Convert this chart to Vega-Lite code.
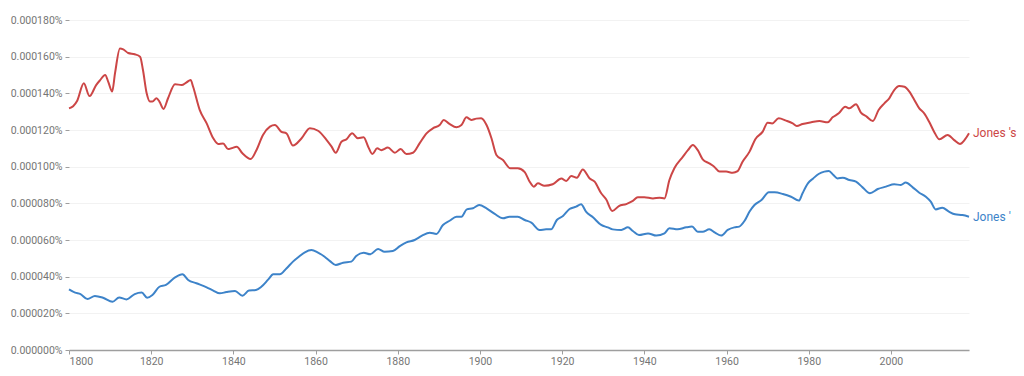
{
  "$schema": "https://vega.github.io/schema/vega-lite/v6.json",
  "width": 900,
  "height": 330,
  "autosize": "none",
  "padding": {"left": 69, "top": 20, "right": 55, "bottom": 26},
  "background": "white",
  "config": {"view": {"stroke": null}, "font": "Roboto"},
  "datasets": {
    "ngrams": [
      {"ngram": "Jones 's", "year": 1800.0, "value": 0.0001318},
      {"ngram": "Jones 's", "year": 1801.0, "value": 0.000133},
      {"ngram": "Jones 's", "year": 1802.0, "value": 0.000136},
      {"ngram": "Jones 's", "year": 1803.6, "value": 0.0001455},
      {"ngram": "Jones 's", "year": 1805.0, "value": 0.0001385},
      {"ngram": "Jones 's", "year": 1806.6, "value": 0.0001445},
      {"ngram": "Jones 's", "year": 1807.5, "value": 0.000147},
      {"ngram": "Jones 's", "year": 1808.8, "value": 0.00015},
      {"ngram": "Jones 's", "year": 1809.6, "value": 0.000146},
      {"ngram": "Jones 's", "year": 1810.5, "value": 0.000141},
      {"ngram": "Jones 's", "year": 1811.2, "value": 0.000151},
      {"ngram": "Jones 's", "year": 1812.4, "value": 0.0001645},
      {"ngram": "Jones 's", "year": 1813.2, "value": 0.000164},
      {"ngram": "Jones 's", "year": 1814.4, "value": 0.000162},
      {"ngram": "Jones 's", "year": 1816.0, "value": 0.0001613},
      {"ngram": "Jones 's", "year": 1817.3, "value": 0.00016},
      {"ngram": "Jones 's", "year": 1818.0, "value": 0.0001527},
      {"ngram": "Jones 's", "year": 1818.9, "value": 0.00014},
      {"ngram": "Jones 's", "year": 1819.7, "value": 0.0001355},
      {"ngram": "Jones 's", "year": 1820.3, "value": 0.0001355},
      {"ngram": "Jones 's", "year": 1821.3, "value": 0.0001373},
      {"ngram": "Jones 's", "year": 1822.0, "value": 0.0001355},
      {"ngram": "Jones 's", "year": 1823.0, "value": 0.0001315},
      {"ngram": "Jones 's", "year": 1824.1, "value": 0.0001373},
      {"ngram": "Jones 's", "year": 1825.8, "value": 0.000145},
      {"ngram": "Jones 's", "year": 1827.4, "value": 0.0001445},
      {"ngram": "Jones 's", "year": 1828.6, "value": 0.000146},
      {"ngram": "Jones 's", "year": 1829.6, "value": 0.0001473},
      {"ngram": "Jones 's", "year": 1830.2, "value": 0.0001436},
      {"ngram": "Jones 's", "year": 1831.8, "value": 0.000131},
      {"ngram": "Jones 's", "year": 1833.5, "value": 0.0001236},
      {"ngram": "Jones 's", "year": 1835.1, "value": 0.0001155},
      {"ngram": "Jones 's", "year": 1836.3, "value": 0.0001124},
      {"ngram": "Jones 's", "year": 1837.5, "value": 0.0001127},
      {"ngram": "Jones 's", "year": 1838.7, "value": 0.0001096},
      {"ngram": "Jones 's", "year": 1839.5, "value": 0.00011},
      {"ngram": "Jones 's", "year": 1840.8, "value": 0.0001109},
      {"ngram": "Jones 's", "year": 1842.2, "value": 0.0001073},
      {"ngram": "Jones 's", "year": 1844.2, "value": 0.0001042},
      {"ngram": "Jones 's", "year": 1845.6, "value": 0.000109},
      {"ngram": "Jones 's", "year": 1847.2, "value": 0.0001173},
      {"ngram": "Jones 's", "year": 1848.9, "value": 0.0001218},
      {"ngram": "Jones 's", "year": 1850.1, "value": 0.0001227},
      {"ngram": "Jones 's", "year": 1851.7, "value": 0.000119},
      {"ngram": "Jones 's", "year": 1852.9, "value": 0.0001182},
      {"ngram": "Jones 's", "year": 1854.5, "value": 0.0001115},
      {"ngram": "Jones 's", "year": 1856.6, "value": 0.0001155},
      {"ngram": "Jones 's", "year": 1858.6, "value": 0.000121},
      {"ngram": "Jones 's", "year": 1860.6, "value": 0.0001196},
      {"ngram": "Jones 's", "year": 1862.7, "value": 0.0001145},
      {"ngram": "Jones 's", "year": 1863.9, "value": 0.0001109},
      {"ngram": "Jones 's", "year": 1864.9, "value": 0.0001076},
      {"ngram": "Jones 's", "year": 1866.3, "value": 0.0001136},
      {"ngram": "Jones 's", "year": 1867.5, "value": 0.0001149},
      {"ngram": "Jones 's", "year": 1868.9, "value": 0.0001182},
      {"ngram": "Jones 's", "year": 1870.3, "value": 0.0001155},
      {"ngram": "Jones 's", "year": 1871.7, "value": 0.000116},
      {"ngram": "Jones 's", "year": 1872.8, "value": 0.0001109},
      {"ngram": "Jones 's", "year": 1873.8, "value": 0.0001069},
      {"ngram": "Jones 's", "year": 1875.0, "value": 0.00011},
      {"ngram": "Jones 's", "year": 1876.0, "value": 0.000109},
      {"ngram": "Jones 's", "year": 1877.6, "value": 0.0001104},
      {"ngram": "Jones 's", "year": 1879.3, "value": 0.0001076},
      {"ngram": "Jones 's", "year": 1880.7, "value": 0.0001096},
      {"ngram": "Jones 's", "year": 1882.1, "value": 0.0001069},
      {"ngram": "Jones 's", "year": 1883.7, "value": 0.0001076},
      {"ngram": "Jones 's", "year": 1885.3, "value": 0.0001127},
      {"ngram": "Jones 's", "year": 1887.0, "value": 0.0001182},
      {"ngram": "Jones 's", "year": 1888.6, "value": 0.000121},
      {"ngram": "Jones 's", "year": 1890.2, "value": 0.0001227},
      {"ngram": "Jones 's", "year": 1891.2, "value": 0.0001255},
      {"ngram": "Jones 's", "year": 1892.6, "value": 0.0001233},
      {"ngram": "Jones 's", "year": 1894.3, "value": 0.0001215},
      {"ngram": "Jones 's", "year": 1895.5, "value": 0.0001227},
      {"ngram": "Jones 's", "year": 1896.7, "value": 0.0001269},
      {"ngram": "Jones 's", "year": 1897.9, "value": 0.0001255},
      {"ngram": "Jones 's", "year": 1899.1, "value": 0.0001262},
      {"ngram": "Jones 's", "year": 1900.3, "value": 0.0001264},
      {"ngram": "Jones 's", "year": 1901.6, "value": 0.0001227},
      {"ngram": "Jones 's", "year": 1902.8, "value": 0.0001155},
      {"ngram": "Jones 's", "year": 1904.0, "value": 0.0001064},
      {"ngram": "Jones 's", "year": 1905.6, "value": 0.0001036},
      {"ngram": "Jones 's", "year": 1907.4, "value": 0.0000991},
      {"ngram": "Jones 's", "year": 1909.2, "value": 0.0000991},
      {"ngram": "Jones 's", "year": 1910.9, "value": 0.000097},
      {"ngram": "Jones 's", "year": 1912.1, "value": 0.0000918},
      {"ngram": "Jones 's", "year": 1913.1, "value": 0.0000891},
      {"ngram": "Jones 's", "year": 1914.1, "value": 0.0000909},
      {"ngram": "Jones 's", "year": 1915.7, "value": 0.0000896},
      {"ngram": "Jones 's", "year": 1917.7, "value": 0.0000904},
      {"ngram": "Jones 's", "year": 1919.8, "value": 0.0000936},
      {"ngram": "Jones 's", "year": 1921.0, "value": 0.0000922},
      {"ngram": "Jones 's", "year": 1922.2, "value": 0.0000949},
      {"ngram": "Jones 's", "year": 1923.6, "value": 0.000094},
      {"ngram": "Jones 's", "year": 1925.0, "value": 0.0000985},
      {"ngram": "Jones 's", "year": 1926.7, "value": 0.0000936},
      {"ngram": "Jones 's", "year": 1927.9, "value": 0.0000918},
      {"ngram": "Jones 's", "year": 1929.5, "value": 0.0000855},
      {"ngram": "Jones 's", "year": 1930.7, "value": 0.0000822},
      {"ngram": "Jones 's", "year": 1932.2, "value": 0.0000758},
      {"ngram": "Jones 's", "year": 1933.8, "value": 0.0000785},
      {"ngram": "Jones 's", "year": 1935.6, "value": 0.0000796},
      {"ngram": "Jones 's", "year": 1937.2, "value": 0.0000813},
      {"ngram": "Jones 's", "year": 1938.4, "value": 0.0000833},
      {"ngram": "Jones 's", "year": 1940.0, "value": 0.0000833},
      {"ngram": "Jones 's", "year": 1942.1, "value": 0.0000827},
      {"ngram": "Jones 's", "year": 1943.7, "value": 0.0000831},
      {"ngram": "Jones 's", "year": 1944.9, "value": 0.0000827},
      {"ngram": "Jones 's", "year": 1946.1, "value": 0.0000927},
      {"ngram": "Jones 's", "year": 1947.3, "value": 0.0000991},
      {"ngram": "Jones 's", "year": 1949.4, "value": 0.0001055},
      {"ngram": "Jones 's", "year": 1950.6, "value": 0.000109},
      {"ngram": "Jones 's", "year": 1951.8, "value": 0.0001118},
      {"ngram": "Jones 's", "year": 1953.0, "value": 0.000109},
      {"ngram": "Jones 's", "year": 1954.2, "value": 0.000104},
      {"ngram": "Jones 's", "year": 1955.8, "value": 0.0001018},
      {"ngram": "Jones 's", "year": 1957.0, "value": 0.0001},
      {"ngram": "Jones 's", "year": 1958.3, "value": 0.0000973},
      {"ngram": "Jones 's", "year": 1959.9, "value": 0.0000973},
      {"ngram": "Jones 's", "year": 1961.5, "value": 0.0000967},
      {"ngram": "Jones 's", "year": 1962.7, "value": 0.0000976},
      {"ngram": "Jones 's", "year": 1963.9, "value": 0.0001027},
      {"ngram": "Jones 's", "year": 1965.6, "value": 0.0001082},
      {"ngram": "Jones 's", "year": 1967.0, "value": 0.000115},
      {"ngram": "Jones 's", "year": 1968.8, "value": 0.0001191},
      {"ngram": "Jones 's", "year": 1970.0, "value": 0.000124},
      {"ngram": "Jones 's", "year": 1971.1, "value": 0.0001236},
      {"ngram": "Jones 's", "year": 1972.7, "value": 0.0001264},
      {"ngram": "Jones 's", "year": 1974.5, "value": 0.0001251},
      {"ngram": "Jones 's", "year": 1976.1, "value": 0.0001236},
      {"ngram": "Jones 's", "year": 1977.1, "value": 0.0001222},
      {"ngram": "Jones 's", "year": 1978.5, "value": 0.0001233},
      {"ngram": "Jones 's", "year": 1980.6, "value": 0.0001242},
      {"ngram": "Jones 's", "year": 1982.6, "value": 0.0001249},
      {"ngram": "Jones 's", "year": 1984.6, "value": 0.0001242},
      {"ngram": "Jones 's", "year": 1985.8, "value": 0.0001269},
      {"ngram": "Jones 's", "year": 1987.3, "value": 0.0001291},
      {"ngram": "Jones 's", "year": 1988.9, "value": 0.0001327},
      {"ngram": "Jones 's", "year": 1989.9, "value": 0.0001318},
      {"ngram": "Jones 's", "year": 1991.5, "value": 0.000134},
      {"ngram": "Jones 's", "year": 1992.7, "value": 0.0001295},
      {"ngram": "Jones 's", "year": 1994.1, "value": 0.0001273},
      {"ngram": "Jones 's", "year": 1995.6, "value": 0.0001249},
      {"ngram": "Jones 's", "year": 1997.0, "value": 0.0001309},
      {"ngram": "Jones 's", "year": 1998.4, "value": 0.0001345},
      {"ngram": "Jones 's", "year": 1999.6, "value": 0.0001373},
      {"ngram": "Jones 's", "year": 2000.8, "value": 0.0001418},
      {"ngram": "Jones 's", "year": 2002.0, "value": 0.000144},
      {"ngram": "Jones 's", "year": 2003.3, "value": 0.0001436},
      {"ngram": "Jones 's", "year": 2004.5, "value": 0.0001409},
      {"ngram": "Jones 's", "year": 2005.7, "value": 0.0001364},
      {"ngram": "Jones 's", "year": 2006.9, "value": 0.0001318},
      {"ngram": "Jones 's", "year": 2008.1, "value": 0.0001291},
      {"ngram": "Jones 's", "year": 2009.3, "value": 0.0001245},
      {"ngram": "Jones 's", "year": 2010.5, "value": 0.0001191},
      {"ngram": "Jones 's", "year": 2011.8, "value": 0.0001149},
      {"ngram": "Jones 's", "year": 2013.8, "value": 0.0001173},
      {"ngram": "Jones 's", "year": 2015.4, "value": 0.0001145},
      {"ngram": "Jones 's", "year": 2016.8, "value": 0.0001124},
      {"ngram": "Jones 's", "year": 2017.9, "value": 0.0001145},
      {"ngram": "Jones 's", "year": 2019.0, "value": 0.0001182},
      {"ngram": "Jones '", "year": 1800.0, "value": 0.0000331},
      {"ngram": "Jones '", "year": 1801.5, "value": 0.0000313},
      {"ngram": "Jones '", "year": 1802.8, "value": 0.0000305},
      {"ngram": "Jones '", "year": 1804.5, "value": 0.0000278},
      {"ngram": "Jones '", "year": 1806.3, "value": 0.0000295},
      {"ngram": "Jones '", "year": 1808.3, "value": 0.0000285},
      {"ngram": "Jones '", "year": 1810.6, "value": 0.0000263},
      {"ngram": "Jones '", "year": 1812.2, "value": 0.0000287},
      {"ngram": "Jones '", "year": 1814.0, "value": 0.0000276},
      {"ngram": "Jones '", "year": 1816.0, "value": 0.0000305},
      {"ngram": "Jones '", "year": 1817.7, "value": 0.0000313},
      {"ngram": "Jones '", "year": 1819.0, "value": 0.0000285},
      {"ngram": "Jones '", "year": 1820.3, "value": 0.00003},
      {"ngram": "Jones '", "year": 1822.0, "value": 0.0000345},
      {"ngram": "Jones '", "year": 1823.6, "value": 0.0000355},
      {"ngram": "Jones '", "year": 1825.8, "value": 0.0000396},
      {"ngram": "Jones '", "year": 1827.6, "value": 0.0000413},
      {"ngram": "Jones '", "year": 1829.0, "value": 0.0000382},
      {"ngram": "Jones '", "year": 1831.0, "value": 0.0000364},
      {"ngram": "Jones '", "year": 1833.5, "value": 0.0000342},
      {"ngram": "Jones '", "year": 1835.1, "value": 0.0000324},
      {"ngram": "Jones '", "year": 1836.7, "value": 0.0000309},
      {"ngram": "Jones '", "year": 1838.3, "value": 0.0000316},
      {"ngram": "Jones '", "year": 1840.4, "value": 0.0000322},
      {"ngram": "Jones '", "year": 1842.2, "value": 0.0000296},
      {"ngram": "Jones '", "year": 1843.8, "value": 0.0000324},
      {"ngram": "Jones '", "year": 1845.5, "value": 0.0000327},
      {"ngram": "Jones '", "year": 1846.8, "value": 0.0000345},
      {"ngram": "Jones '", "year": 1848.5, "value": 0.0000385},
      {"ngram": "Jones '", "year": 1849.7, "value": 0.0000413},
      {"ngram": "Jones '", "year": 1851.3, "value": 0.0000413},
      {"ngram": "Jones '", "year": 1852.9, "value": 0.0000445},
      {"ngram": "Jones '", "year": 1854.5, "value": 0.0000482},
      {"ngram": "Jones '", "year": 1856.0, "value": 0.000051},
      {"ngram": "Jones '", "year": 1857.4, "value": 0.0000533},
      {"ngram": "Jones '", "year": 1859.0, "value": 0.0000545},
      {"ngram": "Jones '", "year": 1860.6, "value": 0.0000531},
      {"ngram": "Jones '", "year": 1862.2, "value": 0.0000509},
      {"ngram": "Jones '", "year": 1863.5, "value": 0.0000485},
      {"ngram": "Jones '", "year": 1864.9, "value": 0.0000464},
      {"ngram": "Jones '", "year": 1866.7, "value": 0.0000476},
      {"ngram": "Jones '", "year": 1868.7, "value": 0.0000482},
      {"ngram": "Jones '", "year": 1869.9, "value": 0.0000513},
      {"ngram": "Jones '", "year": 1871.7, "value": 0.0000531},
      {"ngram": "Jones '", "year": 1873.3, "value": 0.0000522},
      {"ngram": "Jones '", "year": 1875.2, "value": 0.0000551},
      {"ngram": "Jones '", "year": 1876.8, "value": 0.0000536},
      {"ngram": "Jones '", "year": 1878.8, "value": 0.000054},
      {"ngram": "Jones '", "year": 1880.5, "value": 0.0000567},
      {"ngram": "Jones '", "year": 1882.1, "value": 0.0000587},
      {"ngram": "Jones '", "year": 1884.1, "value": 0.00006},
      {"ngram": "Jones '", "year": 1885.8, "value": 0.0000622},
      {"ngram": "Jones '", "year": 1887.8, "value": 0.000064},
      {"ngram": "Jones '", "year": 1889.4, "value": 0.0000633},
      {"ngram": "Jones '", "year": 1891.0, "value": 0.0000682},
      {"ngram": "Jones '", "year": 1892.6, "value": 0.0000705},
      {"ngram": "Jones '", "year": 1894.3, "value": 0.0000727},
      {"ngram": "Jones '", "year": 1895.5, "value": 0.0000727},
      {"ngram": "Jones '", "year": 1896.8, "value": 0.0000767},
      {"ngram": "Jones '", "year": 1898.3, "value": 0.0000773},
      {"ngram": "Jones '", "year": 1899.8, "value": 0.0000791},
      {"ngram": "Jones '", "year": 1901.6, "value": 0.0000773},
      {"ngram": "Jones '", "year": 1903.6, "value": 0.0000742},
      {"ngram": "Jones '", "year": 1905.6, "value": 0.0000718},
      {"ngram": "Jones '", "year": 1907.2, "value": 0.0000727},
      {"ngram": "Jones '", "year": 1909.2, "value": 0.0000727},
      {"ngram": "Jones '", "year": 1910.9, "value": 0.0000709},
      {"ngram": "Jones '", "year": 1912.5, "value": 0.0000695},
      {"ngram": "Jones '", "year": 1914.5, "value": 0.0000655},
      {"ngram": "Jones '", "year": 1916.1, "value": 0.0000658},
      {"ngram": "Jones '", "year": 1917.3, "value": 0.0000658},
      {"ngram": "Jones '", "year": 1918.7, "value": 0.0000709},
      {"ngram": "Jones '", "year": 1920.2, "value": 0.0000731},
      {"ngram": "Jones '", "year": 1921.8, "value": 0.0000769},
      {"ngram": "Jones '", "year": 1923.4, "value": 0.0000782},
      {"ngram": "Jones '", "year": 1924.6, "value": 0.0000795},
      {"ngram": "Jones '", "year": 1925.8, "value": 0.0000755},
      {"ngram": "Jones '", "year": 1927.5, "value": 0.0000724},
      {"ngram": "Jones '", "year": 1929.5, "value": 0.0000682},
      {"ngram": "Jones '", "year": 1931.1, "value": 0.0000669},
      {"ngram": "Jones '", "year": 1932.3, "value": 0.0000658},
      {"ngram": "Jones '", "year": 1934.4, "value": 0.0000655},
      {"ngram": "Jones '", "year": 1936.0, "value": 0.0000669},
      {"ngram": "Jones '", "year": 1937.2, "value": 0.0000649},
      {"ngram": "Jones '", "year": 1938.7, "value": 0.0000627},
      {"ngram": "Jones '", "year": 1940.9, "value": 0.0000636},
      {"ngram": "Jones '", "year": 1942.9, "value": 0.0000624},
      {"ngram": "Jones '", "year": 1944.9, "value": 0.0000636},
      {"ngram": "Jones '", "year": 1946.1, "value": 0.0000664},
      {"ngram": "Jones '", "year": 1948.1, "value": 0.0000658},
      {"ngram": "Jones '", "year": 1950.2, "value": 0.0000669},
      {"ngram": "Jones '", "year": 1951.6, "value": 0.0000673},
      {"ngram": "Jones '", "year": 1953.0, "value": 0.0000645},
      {"ngram": "Jones '", "year": 1954.2, "value": 0.0000645},
      {"ngram": "Jones '", "year": 1955.8, "value": 0.0000658},
      {"ngram": "Jones '", "year": 1957.2, "value": 0.000064},
      {"ngram": "Jones '", "year": 1958.7, "value": 0.0000624},
      {"ngram": "Jones '", "year": 1960.3, "value": 0.0000655},
      {"ngram": "Jones '", "year": 1961.9, "value": 0.0000669},
      {"ngram": "Jones '", "year": 1963.1, "value": 0.0000673},
      {"ngram": "Jones '", "year": 1964.4, "value": 0.0000705},
      {"ngram": "Jones '", "year": 1965.6, "value": 0.0000755},
      {"ngram": "Jones '", "year": 1966.8, "value": 0.0000791},
      {"ngram": "Jones '", "year": 1968.5, "value": 0.0000818},
      {"ngram": "Jones '", "year": 1970.3, "value": 0.000086},
      {"ngram": "Jones '", "year": 1971.7, "value": 0.000086},
      {"ngram": "Jones '", "year": 1973.7, "value": 0.0000851},
      {"ngram": "Jones '", "year": 1975.7, "value": 0.0000836},
      {"ngram": "Jones '", "year": 1977.6, "value": 0.0000815},
      {"ngram": "Jones '", "year": 1978.5, "value": 0.0000855},
      {"ngram": "Jones '", "year": 1979.8, "value": 0.0000909},
      {"ngram": "Jones '", "year": 1981.1, "value": 0.0000936},
      {"ngram": "Jones '", "year": 1982.4, "value": 0.000096},
      {"ngram": "Jones '", "year": 1983.8, "value": 0.0000973},
      {"ngram": "Jones '", "year": 1984.9, "value": 0.0000976},
      {"ngram": "Jones '", "year": 1986.0, "value": 0.0000955},
      {"ngram": "Jones '", "year": 1987.0, "value": 0.0000936},
      {"ngram": "Jones '", "year": 1988.3, "value": 0.000094},
      {"ngram": "Jones '", "year": 1989.9, "value": 0.0000927},
      {"ngram": "Jones '", "year": 1991.5, "value": 0.0000918},
      {"ngram": "Jones '", "year": 1993.1, "value": 0.0000887},
      {"ngram": "Jones '", "year": 1994.9, "value": 0.0000855},
      {"ngram": "Jones '", "year": 1996.8, "value": 0.0000878},
      {"ngram": "Jones '", "year": 1998.8, "value": 0.0000891},
      {"ngram": "Jones '", "year": 2000.8, "value": 0.0000904},
      {"ngram": "Jones '", "year": 2002.4, "value": 0.00009},
      {"ngram": "Jones '", "year": 2003.6, "value": 0.0000913},
      {"ngram": "Jones '", "year": 2005.3, "value": 0.0000887},
      {"ngram": "Jones '", "year": 2006.9, "value": 0.0000858},
      {"ngram": "Jones '", "year": 2008.5, "value": 0.0000836},
      {"ngram": "Jones '", "year": 2009.7, "value": 0.0000809},
      {"ngram": "Jones '", "year": 2010.9, "value": 0.0000767},
      {"ngram": "Jones '", "year": 2012.5, "value": 0.0000776},
      {"ngram": "Jones '", "year": 2014.1, "value": 0.0000755},
      {"ngram": "Jones '", "year": 2015.6, "value": 0.000074},
      {"ngram": "Jones '", "year": 2017.4, "value": 0.0000736},
      {"ngram": "Jones '", "year": 2019.0, "value": 0.0000727}
    ]
  },
  "data": {"name": "ngrams"},
  "encoding": {
    "x": {
      "field": "year",
      "type": "quantitative",
      "scale": {"domain": [1800, 2019], "nice": false, "zero": false},
      "axis": {
        "title": null,
        "values": [1800, 1820, 1840, 1860, 1880, 1900, 1920, 1940, 1960, 1980, 2000],
        "format": "d",
        "grid": false,
        "domainColor": "#9e9e9e",
        "domainWidth": 1.5,
        "tickColor": "#9e9e9e",
        "tickSize": 4,
        "labelColor": "#757575",
        "labelFontSize": 10.5,
        "labelFont": "Roboto",
        "labelPadding": 2
      }
    },
    "y": {
      "field": "value",
      "type": "quantitative",
      "scale": {"domain": [0, 0.00018], "nice": false},
      "axis": {
        "title": null,
        "values": [0, 0.00002, 0.00004, 0.00006, 0.00008, 0.0001, 0.00012, 0.00014, 0.00016, 0.00018],
        "labelExpr": "format(datum.value, '.6f') + '%'",
        "domain": false,
        "grid": true,
        "gridColor": "#f2f2f2",
        "gridWidth": 1,
        "tickColor": "#9e9e9e",
        "tickSize": 4,
        "tickOffset": 0,
        "labelColor": "#757575",
        "labelFontSize": 10.5,
        "labelFont": "Roboto",
        "labelPadding": 3
      }
    },
    "color": {
      "field": "ngram",
      "type": "nominal",
      "scale": {"domain": ["Jones 's", "Jones '"], "range": ["#cc4646", "#3d83c9"]},
      "legend": null
    }
  },
  "layer": [
    {
      "mark": {"type": "line", "interpolate": "monotone", "strokeWidth": 2}
    },
    {
      "transform": [{"filter": "datum.year == 2019"}],
      "mark": {"type": "text", "align": "left", "baseline": "middle", "dx": 4, "fontSize": 12, "font": "Roboto"},
      "encoding": {"text": {"field": "ngram", "type": "nominal"}}
    }
  ]
}
